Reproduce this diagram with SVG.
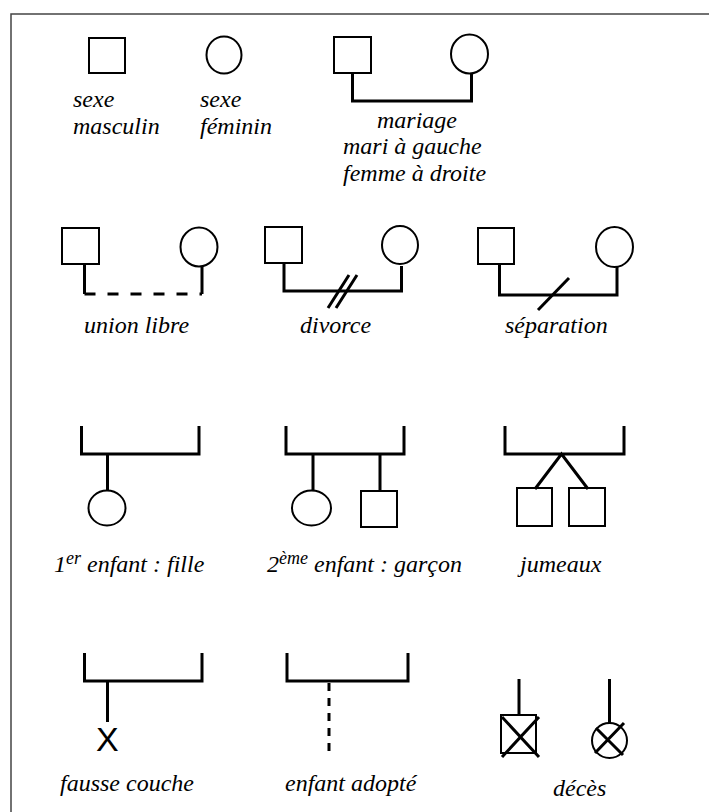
<svg xmlns="http://www.w3.org/2000/svg" width="709" height="812" viewBox="0 0 709 812">
<style>
.shape{fill:none;stroke:#000;stroke-width:2}
.ln{fill:none;stroke:#000;stroke-width:3}
.lbl{font-family:"Liberation Serif","Times New Roman",serif;font-style:italic;font-size:24px;fill:#000}
.sup{font-size:18px}
.x{font-family:"Liberation Sans",Arial,sans-serif;font-size:34px;fill:#000}
</style>
<rect width="709" height="812" fill="#fff"/>
<path d="M11,813 V14 H710" fill="none" stroke="#444" stroke-width="1.5"/>
<g id="connectors">
<path class="ln" d="M352.5,73 V101 H471.5 V74"/>
<path class="ln" d="M84.5,264 V294"/>
<path class="ln" d="M202,267 V294"/>
<path class="ln" d="M84.5,294 H202" stroke-dasharray="11,12"/>
<path class="ln" d="M284,262 V291 H401.5 V266"/>
<path class="ln" d="M328,308 L349,275 M336,308 L357,275"/>
<path class="ln" d="M499.5,264 V295 H617 V267"/>
<path class="ln" d="M538,310 L569,278"/>
<path class="ln" d="M81.5,426 V454 H199 V426 M107.5,454 V491"/>
<path class="ln" d="M286,426 V454 H404 V426 M313,454 V491 M380,454 V491"/>
<path class="ln" d="M505,426 V454 H624 V426 M535,489 L561.5,454 L588,489"/>
<path class="ln" d="M84.5,653 V681 H202 V653 M107.5,681 V722"/>
<path class="ln" d="M287,653 V681 H408 V653"/>
<path class="ln" d="M329,683 V751" stroke-dasharray="8,7"/>
<path class="ln" d="M519,679 V715"/>
<path class="ln" d="M609.5,679 V723"/>
</g>
<g id="male"><rect class="shape" x="89" y="38" width="36" height="35"/></g>
<g id="female"><ellipse class="shape" cx="224" cy="55" rx="17.5" ry="18.5"/></g>
<g id="mariage-m"><rect class="shape" x="334" y="37" width="37" height="36"/></g>
<g id="mariage-f"><ellipse class="shape" cx="469.5" cy="54" rx="18.5" ry="19.5"/></g>
<g id="union-m"><rect class="shape" x="62" y="228" width="37" height="36"/></g>
<g id="union-f"><ellipse class="shape" cx="199" cy="247" rx="18.5" ry="19.5"/></g>
<g id="divorce-m"><rect class="shape" x="265" y="227" width="37" height="36"/></g>
<g id="divorce-f"><ellipse class="shape" cx="400" cy="245" rx="18" ry="19"/></g>
<g id="separation-m"><rect class="shape" x="478" y="228" width="36" height="36"/></g>
<g id="separation-f"><ellipse class="shape" cx="614.5" cy="247" rx="18.5" ry="20"/></g>
<g id="enfant1"><ellipse class="shape" cx="107" cy="508" rx="18.5" ry="17.5"/></g>
<g id="enfant2-f"><ellipse class="shape" cx="311.5" cy="508" rx="19.5" ry="17.5"/></g>
<g id="enfant2-m"><rect class="shape" x="361" y="491" width="36" height="36"/></g>
<g id="jumeau1"><rect class="shape" x="517" y="488" width="35" height="38"/></g>
<g id="jumeau2"><rect class="shape" x="569" y="488" width="36" height="38"/></g>
<g id="fausse-couche"><text class="x" x="96" y="751">X</text></g>
<g id="deces-m"><rect class="shape" x="501" y="715" width="35" height="38"/><path class="ln" d="M502,717 L539,757 M539,717 L502,757" stroke-width="2.5"/></g>
<g id="deces-f"><ellipse class="shape" cx="609.5" cy="740.5" rx="17.5" ry="17.5"/><path class="ln" d="M596,728 L623,755 M624,723 L595,753" stroke-width="2.5"/></g>
<g id="labels">
<text class="lbl" x="73" y="107">sexe</text>
<text class="lbl" x="73" y="134">masculin</text>
<text class="lbl" x="200" y="107">sexe</text>
<text class="lbl" x="200" y="134">féminin</text>
<text class="lbl" x="377" y="128">mariage</text>
<text class="lbl" x="343" y="154">mari à gauche</text>
<text class="lbl" x="343" y="181">femme à droite</text>
<text class="lbl" x="84" y="333">union libre</text>
<text class="lbl" x="300" y="333">divorce</text>
<text class="lbl" x="505" y="333">séparation</text>
<text class="lbl" x="54" y="572">1<tspan class="sup" dy="-8">er</tspan><tspan dy="8"> enfant : fille</tspan></text>
<text class="lbl" x="267" y="572">2<tspan class="sup" dy="-8">ème</tspan><tspan dy="8"> enfant : garçon</tspan></text>
<text class="lbl" x="520" y="572">jumeaux</text>
<text class="lbl" x="60" y="791">fausse couche</text>
<text class="lbl" x="285" y="791">enfant adopté</text>
<text class="lbl" x="553" y="796">décès</text>
</g>
</svg>
